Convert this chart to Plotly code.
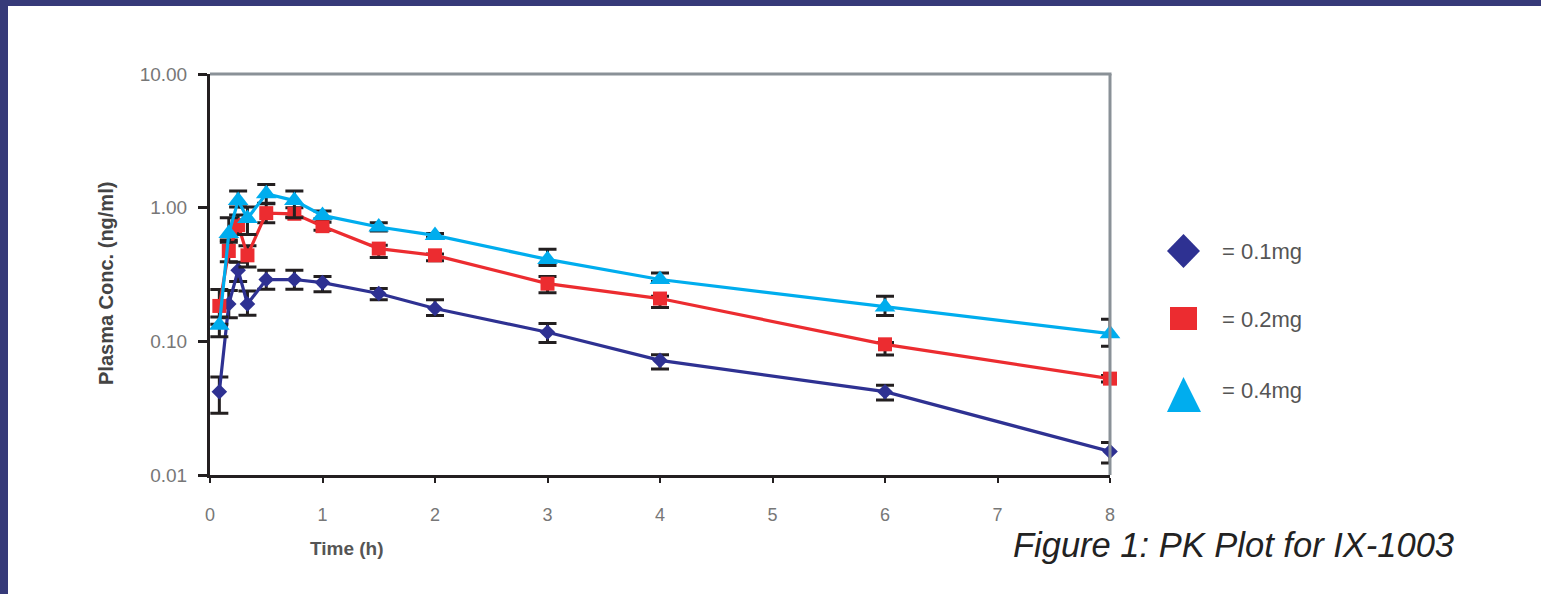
import plotly.graph_objects as go

# ---------------- data ----------------
times = [0.083, 0.167, 0.25, 0.333, 0.5, 0.75, 1, 1.5, 2, 3, 4, 6, 8]

dose_01 = [0.042, 0.19, 0.34, 0.19, 0.29, 0.29, 0.275, 0.228, 0.176, 0.117, 0.072, 0.042, 0.015]
err_01_up = [0.012, 0.05, 0.05, 0.048, 0.05, 0.05, 0.03, 0.02, 0.029, 0.019, 0.0075, 0.005, 0.0025]
err_01_dn = [0.013, 0.04, 0.06, 0.033, 0.045, 0.045, 0.04, 0.023, 0.02, 0.019, 0.010, 0.0056, 0.0027]

dose_02 = [0.184, 0.474, 0.74, 0.44, 0.91, 0.90, 0.727, 0.494, 0.44, 0.27, 0.209, 0.095, 0.0526]
err_02_up = [0.06, 0.10, 0.14, 0.08, 0.17, 0.10, 0.05, 0.03, 0.01, 0.036, 0.008, 0.003, 0.003]
err_02_dn = [0.05, 0.08, 0.11, 0.08, 0.14, 0.05, 0.05, 0.07, 0.04, 0.039, 0.03, 0.016, 0.003]

dose_04 = [0.132, 0.64, 1.13, 0.83, 1.27, 1.13, 0.875, 0.717, 0.62, 0.41, 0.29, 0.181, 0.114]
err_04_up = [0.02, 0.20, 0.20, 0.18, 0.22, 0.20, 0.07, 0.053, 0.02, 0.078, 0.035, 0.036, 0.032]
err_04_dn = [0.024, 0.09, 0.12, 0.20, 0.20, 0.29, 0.05, 0.047, 0.02, 0.04, 0.01, 0.025, 0.022]

x_ticks = [0, 1, 2, 3, 4, 5, 6, 7, 8]
y_ticks = [0.01, 0.1, 1, 10]
y_tick_text = ["0.01", "0.10", "1.00", "10.00"]

legend_labels = ["= 0.1mg", "= 0.2mg", "= 0.4mg"]
x_title = "Time (h)"
y_title = "Plasma Conc. (ng/ml)"
caption = "Figure 1: PK Plot for IX-1003"

# ---------------- style ----------------
W, H = 1541, 594
L, R, T, B = 210, 431, 74, 119
PW, PH = W - L - R, H - T - B

BLUE = "#2e3192"
RED = "#ec2c30"
CYAN = "#00adee"
BLACK = "#231f20"
GREY = "#8a9197"
NAVY = "#363a79"
FONT = "Liberation Sans, Arial, sans-serif"


def xp(px):
    return (px - L) / PW


def yp(py):
    return (T + PH - py) / PH


fig = go.Figure()

series = [
    (dose_01, err_01_up, err_01_dn, BLUE, "diamond", 12),
    (dose_02, err_02_up, err_02_dn, RED, "square", 14),
    (dose_04, err_04_up, err_04_dn, CYAN, "triangle-up", 18),
]
for vals, eu, ed, col, sym, sz in series:
    fig.add_trace(go.Scatter(
        x=times, y=vals, mode="lines+markers",
        line=dict(color=col, width=3.2),
        marker=dict(symbol=sym, size=sz, color=col, line=dict(width=0)),
        error_y=dict(type="data", array=eu, arrayminus=ed, symmetric=False,
                     color=BLACK, thickness=3, width=9),
        showlegend=False, cliponaxis=False,
    ))

shapes = [
    # white page
    dict(type="rect", xref="paper", yref="paper", x0=xp(8), x1=xp(W + 5), y0=yp(6), y1=yp(H + 5),
         fillcolor="white", line=dict(width=0), layer="below"),
    # grey top / right frame
    dict(type="line", xref="paper", yref="paper", x0=0, x1=1 + 1.5 / PW, y0=1, y1=1,
         line=dict(color=GREY, width=3)),
    dict(type="line", xref="paper", yref="paper", x0=1, x1=1, y0=0, y1=1,
         line=dict(color=GREY, width=3)),
]


def path(points):
    s = "M " + " L ".join(f"{xp(a):.5f},{yp(b):.5f}" for a, b in points) + " Z"
    return s


# legend glyphs
shapes.append(dict(type="path", xref="paper", yref="paper",
                   path=path([(1167, 251), (1183.5, 234), (1200, 251), (1183.5, 268)]),
                   fillcolor=BLUE, line=dict(width=0)))
shapes.append(dict(type="rect", xref="paper", yref="paper",
                   x0=xp(1170), x1=xp(1197), y0=yp(307), y1=yp(330),
                   fillcolor=RED, line=dict(width=0)))
shapes.append(dict(type="path", xref="paper", yref="paper",
                   path=path([(1167, 412), (1183.5, 377), (1201, 412)]),
                   fillcolor=CYAN, line=dict(width=0)))

annotations = []
for lab, py in zip(legend_labels, [251, 319, 390]):
    annotations.append(dict(text=lab, xref="paper", yref="paper", x=xp(1220), y=yp(py),
                            xanchor="left", yanchor="middle", showarrow=False,
                            font=dict(family=FONT, size=22, color="#555555")))
annotations.append(dict(text="<b>" + x_title + "</b>", xref="paper", yref="paper", x=xp(347), y=yp(548),
                        xanchor="center", yanchor="middle", showarrow=False,
                        font=dict(family=FONT, size=19, color="#555555")))
annotations.append(dict(text="<b>" + y_title + "</b>", xref="paper", yref="paper", x=xp(106), y=yp(284),
                        xanchor="center", yanchor="middle", textangle=-90, showarrow=False,
                        font=dict(family=FONT, size=20, color="#444444")))
annotations.append(dict(text="<i>" + caption + "</i>", xref="paper", yref="paper",
                        x=xp(1011), y=yp(545), xanchor="left", yanchor="middle", showarrow=False,
                        font=dict(family=FONT, size=34.5, color="#222222")))

fig.update_layout(
    width=W, height=H,
    margin=dict(l=L, r=R, t=T, b=B, autoexpand=False),
    paper_bgcolor=NAVY, plot_bgcolor="white",
    shapes=shapes, annotations=annotations,
    xaxis=dict(range=[0, 8], tickvals=x_ticks, ticks="outside", ticklen=5, tickwidth=2,
               tickcolor=BLACK, showline=True, linecolor=BLACK, linewidth=3,
               showgrid=False, zeroline=False, ticklabelstandoff=16,
               tickfont=dict(family=FONT, size=18, color="#777777")),
    yaxis=dict(type="log", range=[-2, 1], tickvals=y_ticks, ticktext=y_tick_text,
               ticks="outside", ticklen=9, tickwidth=3, tickcolor=BLACK,
               showline=True, linecolor=BLACK, linewidth=3, showgrid=False, zeroline=False,
               ticklabelstandoff=7,
               tickfont=dict(family=FONT, size=19, color="#777777")),
)

fig.write_html("out.html", config={"displayModeBar": False},
               post_script="document.body.style.margin='0';document.body.style.overflow='hidden';")
